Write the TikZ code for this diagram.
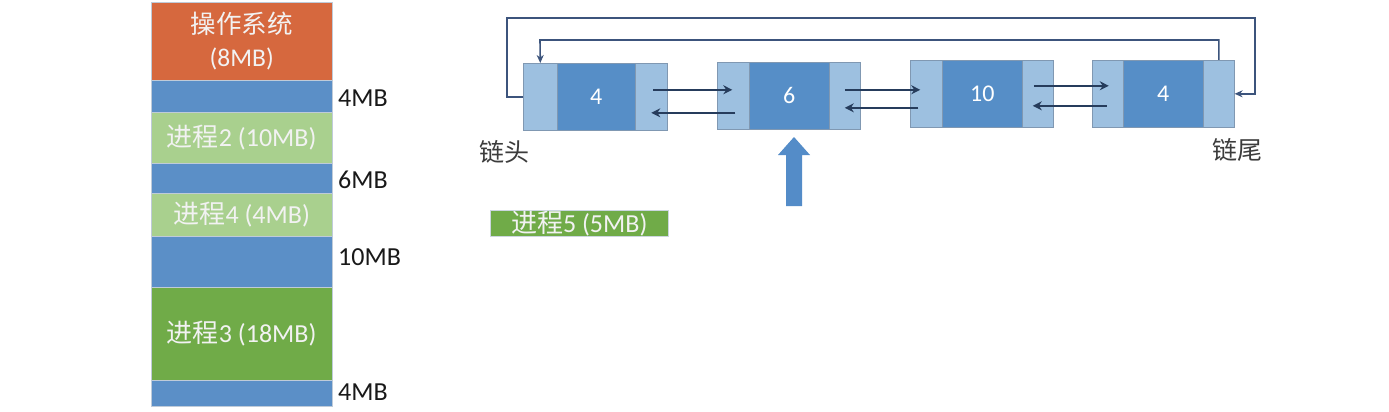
\documentclass[tikz,border=0pt]{standalone}
\usepackage{fontspec}
\setmainfont{Carlito}
\newfontfamily\cjk{Noto Sans CJK SC}
\usetikzlibrary{arrows.meta}
\definecolor{osc}{RGB}{214,104,62}
\definecolor{blu}{RGB}{91,143,199}
\definecolor{lgr}{RGB}{169,208,142}
\definecolor{dgr}{RGB}{112,171,72}
\definecolor{nlight}{RGB}{157,192,224}
\definecolor{nmid}{RGB}{86,142,199}
\definecolor{nedge}{RGB}{128,152,178}
\definecolor{arr}{RGB}{38,60,92}
\definecolor{loopc}{RGB}{60,84,124}
\definecolor{bigc}{RGB}{84,140,200}
\definecolor{labc}{RGB}{25,25,25}
\definecolor{graylab}{RGB}{60,60,60}
\tikzset{
  seg/.style={draw=nedge!50, line width=0.4pt, minimum width=181pt, anchor=north west, inner sep=0pt, text=white!95!black, font=\fontsize{26}{30}\selectfont},
  mlab/.style={anchor=west, inner sep=0pt, text=labc, font=\fontsize{26}{30}\selectfont},
  ptr/.style={draw=nedge, line width=0.6pt, fill=nlight, anchor=north west, inner sep=0pt, minimum height=67pt},
  dat/.style={draw=nedge, line width=0.6pt, fill=nmid, anchor=north west, inner sep=0pt, minimum height=67pt, text=white, font=\fontsize{24}{28}\selectfont},
  link/.style={draw=arr, line width=2.6pt, -{Stealth[length=9pt,width=9pt]}},
  loopl/.style={draw=loopc, line width=1.6pt, -{Stealth[length=8pt,width=7pt]}},
  endlab/.style={inner sep=0pt, text=graylab, font=\cjk\fontsize{25}{28}\selectfont}
}
\begin{document}
\begin{tikzpicture}[x=1pt,y=-1pt]
\useasboundingbox[fill=white] (0,0) rectangle (1389,412);
% memory column
\node[seg, fill=osc, minimum height=78pt, align=center, font=\fontsize{25.5}{33}\selectfont] (os) at (151,2) {{\cjk 操作系统}\\(8MB)};
\node[seg, fill=blu, minimum height=32pt] (f1) at (151,80) {};
\node[seg, fill=lgr, minimum height=51pt] (p2) at (151,112) {{\cjk 进程}2 (10MB)};
\node[seg, fill=blu, minimum height=30pt] (f2) at (151,163) {};
\node[seg, fill=lgr, minimum height=43pt] (p4) at (151,193) {{\cjk 进程}4 (4MB)};
\node[seg, fill=blu, minimum height=51pt] (f3) at (151,236) {};
\node[seg, fill=dgr, minimum height=93pt] (p3) at (151,287) {{\cjk 进程}3 (18MB)};
\node[seg, fill=blu, minimum height=26pt] (f4) at (151,380) {};
\node[mlab] (l1) at (338,98) {4MB};
\node[mlab] (l2) at (338,180) {6MB};
\node[mlab] (l3) at (338,257) {10MB};
\node[mlab] (l4) at (338,392) {4MB};
% linked list nodes
\node[ptr, minimum width=34pt] (a1l) at (523,63) {};
\node[dat, minimum width=78pt] (a1d) at (557,63) {4};
\node[ptr, minimum width=32pt] (a1r) at (635,63) {};
\node[ptr, minimum width=32pt] (a2l) at (717,62) {};
\node[dat, minimum width=80pt] (a2d) at (749,62) {6};
\node[ptr, minimum width=31pt] (a2r) at (829,62) {};
\node[ptr, minimum width=32pt] (a3l) at (910,60) {};
\node[dat, minimum width=80pt] (a3d) at (942,60) {10};
\node[ptr, minimum width=31pt] (a3r) at (1022,60) {};
\node[ptr, minimum width=31pt] (a4l) at (1092,60) {};
\node[dat, minimum width=80pt] (a4d) at (1123,60) {4};
\node[ptr, minimum width=31pt] (a4r) at (1203,60) {};
% links
\draw[link] ([xshift=2pt,yshift=7pt]a1r.center) -- ([xshift=-1pt,yshift=7pt]a1r.center -| a2l.center);
\draw[link] ([xshift=2pt,yshift=-17pt]a2l.center) -- ([yshift=-17pt]a2l.center -| a1r.center);
\draw[link] ([yshift=6pt]a2r.center) -- ([xshift=-6pt,yshift=6pt]a2r.center -| a3l.center);
\draw[link] ([xshift=-8pt,yshift=-14pt]a3l.center) -- ([yshift=-14pt]a3l.center -| a2r.center);
\draw[link] ([xshift=-4pt,yshift=8pt]a3r.center) -- ([xshift=1pt,yshift=8pt]a3r.center -| a4l.center);
\draw[link] ([xshift=-1pt,yshift=-12pt]a4l.center) -- ([xshift=-5pt,yshift=-12pt]a4l.center -| a3r.center);
% loops
\coordinate (otop) at (1255,18);
\draw[loopl] (a1l.west) -- ++(-16,0) |- (otop) |- (a4r.east);
\coordinate (itop) at (540,40);
\draw[loopl] (a4r.north) |- (itop) -- (a1l.north);
% end labels
\node[endlab] (head) at (504,152) {链头};
\node[endlab] (tail) at (1237,150) {链尾};
% big up arrow
\fill[bigc] (786,206) -- (786,155) -- (778,155) -- (794,137) -- (810,155) -- (802,155) -- (802,206) -- cycle;
% new process
\node[seg, fill=dgr, minimum width=178pt, minimum height=26pt, draw=nedge!40] (p5) at (490,210) {{\cjk 进程}5 (5MB)};
\end{tikzpicture}
\end{document}
